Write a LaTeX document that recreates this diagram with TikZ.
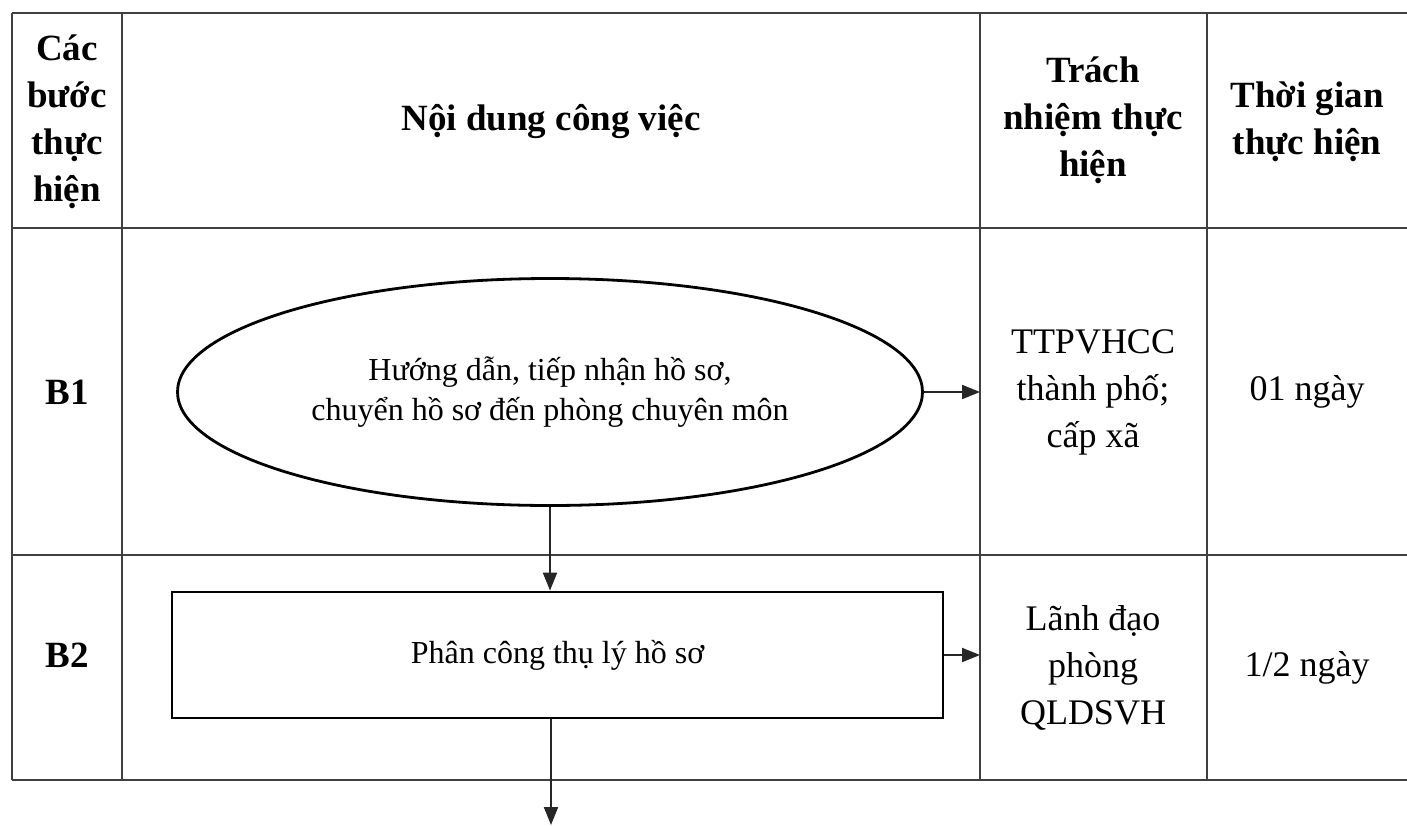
\documentclass[tikz,border=0pt]{standalone}
\usepackage{fontspec}
\setmainfont{Liberation Serif}
\usetikzlibrary{shapes.geometric,arrows.meta}
\begin{document}
\begin{tikzpicture}[x=1pt,y=-1pt,
  gridline/.style={draw=black!75, line width=2pt},
  headtxt/.style={align=center, font=\fontsize{37}{47}\selectfont\bfseries, inner sep=0pt},
  celltxt/.style={align=center, font=\fontsize{36}{47}\selectfont, inner sep=0pt},
  shapetxt/.style={align=center, font=\fontsize{32}{40}\selectfont},
  flowshape/.style={draw=black, line width=2.8pt, inner sep=0pt},
  flowarrow/.style={draw=black!85, line width=2pt, -{Triangle[length=18pt,width=14pt]}}]
\useasboundingbox (0,0) rectangle (1407,825);
\fill[white] (0,0) rectangle (1407,825);

% table rules
\foreach \yy in {13,228,555,780} \draw[gridline] (12,\yy) -- (1407,\yy);
\foreach \xx in {12,122,980,1207} \draw[gridline] (\xx,13) -- (\xx,780);

% column headings
\node[headtxt] (hsteps) at (67,122) {Các\\bước\\thực\\hiện};
\node[headtxt] (hwork) at (551,122) {Nội dung công việc};
\node[headtxt] (hresp) at (1093,120) {Trách\\nhiệm thực\\hiện};
\node[headtxt] (htime) at (1307,122) {Thời gian\\thực hiện};

% step labels
\node[headtxt] (b1) at (67,392) {B1};
\node[headtxt] (b2) at (67,655) {B2};

% flow shapes
\node[flowshape, ellipse, minimum width=745pt, minimum height=227pt, shapetxt] (s1) at (550,392)
  {Hướng dẫn, tiếp nhận hồ sơ,\\chuyển hồ sơ đến phòng chuyên môn};
\node[flowshape, rectangle, minimum width=771pt, minimum height=126pt, shapetxt] (s2) at (557.5,655)
  {Phân công thụ lý hồ sơ};

% responsibility and time cells
\node[celltxt] (r1) at (1093,392) {TTPVHCC\\thành phố;\\cấp xã};
\node[celltxt] (t1) at (1307,392) {01 ngày};
\node[celltxt] (r2) at (1093,668) {Lãnh đạo\\phòng\\QLDSVH};
\node[celltxt] (t2) at (1307,668) {1/2 ngày};

% connectors
\coordinate (col3) at (980,0);
\coordinate (next) at (551,825);
\draw[flowarrow] (s1.south) -- (s1.south |- s2.north);
\draw[flowarrow] (s1.east) -- (s1.east -| col3);
\draw[flowarrow] (s2.east) -- (s2.east -| col3);
\draw[flowarrow] (s2.south -| next) -- (next);
\end{tikzpicture}
\end{document}
